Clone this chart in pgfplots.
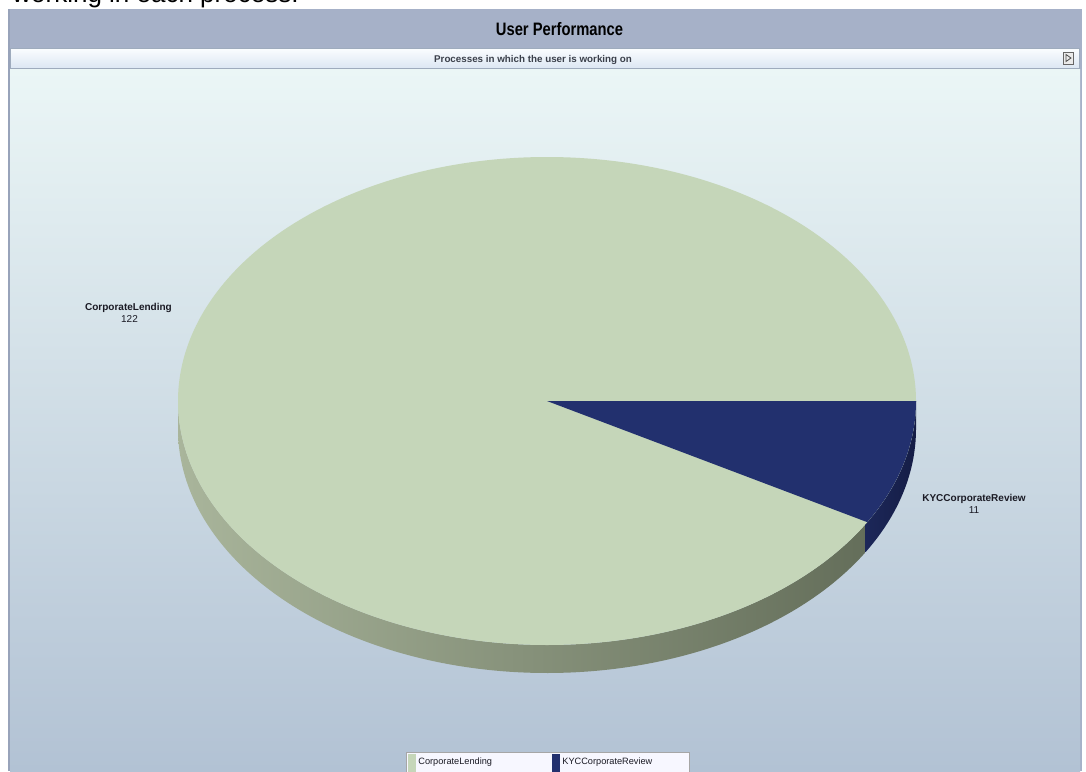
\documentclass[border=0pt]{standalone}
\usepackage{pgfplots}
\pgfplotsset{compat=1.18}
\usepackage{graphicx}
\usepackage{fontspec}
\setmainfont{Liberation Sans}
\definecolor{frameC}{HTML}{A6B1C8}
\definecolor{frameEdge}{HTML}{98A3BA}
\definecolor{chartTop}{HTML}{EBF6F6}
\definecolor{chartMid}{HTML}{D9E6EB}
\definecolor{chartBot}{HTML}{B2C2D4}
\definecolor{subTop}{HTML}{FBFDFF}
\definecolor{subBot}{HTML}{DCE7F3}
\definecolor{subEdge}{HTML}{9EABBD}
\definecolor{pieG}{HTML}{C5D6B9}
\definecolor{pieB}{HTML}{22306E}
\definecolor{sideGL}{HTML}{A9B59B}
\definecolor{sideGR}{HTML}{646E5A}
\definecolor{sideBL}{HTML}{1C2759}
\definecolor{sideBR}{HTML}{151D45}
\definecolor{txt}{HTML}{1A1A24}
\definecolor{subTxt}{HTML}{3A3F4A}
\begin{document}
\begin{tikzpicture}
\pgfmathsetmacro{\vA}{122}% CorporateLending
\pgfmathsetmacro{\vB}{11}% KYCCorporateReview
\pgfmathsetmacro{\angK}{\vB/(\vA+\vB)*360}
\pgfmathsetmacro{\angG}{360-\angK}
\begin{axis}[width=543pt,height=385.5pt,scale only axis,
  xmin=0,xmax=1086,ymin=0,ymax=771,y dir=reverse,
  axis lines=none,clip=false]
\coordinate (TL) at (axis cs:0,0);
\coordinate (BR) at (axis cs:1086,771);
% partial text at very top
\node[anchor=base west,font=\fontsize{13}{15}\selectfont,inner sep=0pt] at (axis cs:12,3) {working in each process.};
% frame and title band
\fill[frameC] (axis cs:8,9) rectangle (axis cs:1082,771);
\fill[frameEdge] (axis cs:8,9) rectangle (axis cs:9.5,771);
\node[anchor=base,font=\bfseries\fontsize{9}{10}\selectfont,text=black,inner sep=0pt] at (axis cs:559.5,35) {\scalebox{0.82}[1]{User Performance}};
% subtitle bar
\shade[top color=subTop,bottom color=subBot] (axis cs:10,48) rectangle (axis cs:1079,68);
\draw[subEdge,line width=0.5pt] (axis cs:10,48) rectangle (axis cs:1079,68);
\node[anchor=base,font=\bfseries\fontsize{4.9}{6}\selectfont,text=subTxt,inner sep=0pt] at (axis cs:533,62) {Processes in which the user is working on};
% small button
\draw[fill=white!92!black,draw=black!60,line width=0.4pt] (axis cs:1063,52) rectangle (axis cs:1073,64);
\draw[black!70,line width=0.4pt] (axis cs:1066,54.5) -- (axis cs:1071,58) -- (axis cs:1066,61.5) -- cycle;
% chart area
\shade[top color=chartTop,middle color=chartMid,bottom color=chartBot] (axis cs:10,69) rectangle (axis cs:1080,771);
% side walls
\addplot[left color=sideGL,right color=sideGR,draw=none,domain=0:2,samples=401,variable=\s]
  ({547+369*cos(\angG-abs(1-\s)*(\angG-180))},{401-244*sin(\angG-abs(1-\s)*(\angG-180))+28*(\s>1.001)});
\addplot[left color=sideBL,right color=sideBR,draw=none,domain=0:2,samples=401,variable=\s]
  ({547+369*cos(360-abs(1-\s)*(360.5-\angG))},{401-244*sin(360-abs(1-\s)*(360.5-\angG))+28*(\s>1.001)});
% top face
\addplot[fill=pieG,draw=none,domain=0:360,samples=361,variable=\t] ({547+369*cos(\t)},{401-244*sin(\t)});
\addplot[fill=pieB,draw=none,domain=0:1.02,samples=103,variable=\s]
  ({547+369*cos(-\angK*min(\s,1))*(\s<1.005)},{401-244*sin(-\angK*min(\s,1))*(\s<1.005)});
% data labels
\node[anchor=base,font=\bfseries\fontsize{5}{6}\selectfont,text=txt,inner sep=0pt] at (axis cs:128.5,310) {CorporateLending};
\node[anchor=base,font=\fontsize{5}{6}\selectfont,text=txt,inner sep=0pt] at (axis cs:129.5,322) {122};
\node[anchor=base,font=\bfseries\fontsize{5}{6}\selectfont,text=txt,inner sep=0pt] at (axis cs:974,501) {KYCCorporateReview};
\node[anchor=base,font=\fontsize{5}{6}\selectfont,text=txt,inner sep=0pt] at (axis cs:974,513) {11};
% legend
\draw[fill=white!97!blue,draw=black!35,line width=0.4pt] (axis cs:406,752) rectangle (axis cs:689,776);
\fill[pieG] (axis cs:407.5,754) rectangle (axis cs:416,776);
\fill[pieB] (axis cs:551.5,754) rectangle (axis cs:560,776);
\node[anchor=base west,font=\fontsize{4.6}{6}\selectfont,text=txt,inner sep=0pt] at (axis cs:418,764) {CorporateLending};
\node[anchor=base west,font=\fontsize{4.6}{6}\selectfont,text=txt,inner sep=0pt] at (axis cs:562,764) {KYCCorporateReview};
\end{axis}
\pgfresetboundingbox
\path[use as bounding box] (TL) rectangle (BR);
\end{tikzpicture}
\end{document}
